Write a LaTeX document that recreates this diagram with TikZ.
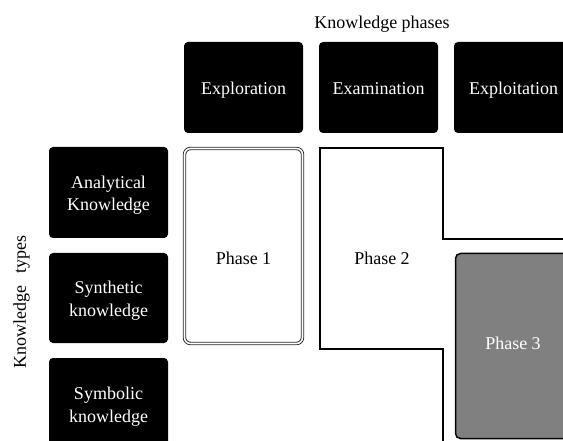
\documentclass[tikz,border=0pt]{standalone}
\usepackage{fontspec}
\setmainfont{Liberation Serif}
\newcommand\tstrut{\rule[-3pt]{0pt}{21pt}}
\begin{document}
\begin{tikzpicture}[x=1pt,y=-1pt,
  every node/.style={font=\fontsize{18}{21}\selectfont},
  blackbox/.style={fill=black,text=white,rounded corners=4pt,inner sep=0pt,
    minimum width=119pt,minimum height=91pt,align=center},
  lbl/.style={inner sep=0pt,align=center}]
\useasboundingbox (0,0) rectangle (563,441);
\begin{scope}
\clip (0,0) rectangle (563,441);
% title
\node[lbl] (kp) at (382,24.5) {Knowledge phases};
\node[lbl,rotate=90] (kt) at (21.5,302) {Knowledge\hspace{0.4em} types};
% phase boxes
\node[blackbox] (explor) at (243.5,87.5) {\tstrut Exploration};
\node[blackbox] (exam) at (378.5,87.5) {\tstrut Examination};
\node[blackbox] (exploit) at (513.5,87.5) {\tstrut Exploitation};
% type boxes
\node[blackbox] (ana) at (108.5,192.5) {\tstrut Analytical\\Knowledge\tstrut};
\node[blackbox,minimum height=90pt] (syn) at (108.5,298) {\tstrut Synthetic\\knowledge\tstrut};
\node[blackbox] (sym) at (108.5,403.5) {\tstrut Symbolic\\knowledge\tstrut};
% phase 1
\node[draw=black!85,double=white,double distance=1.6pt,line width=0.9pt,
  rounded corners=6pt,minimum width=118pt,minimum height=195pt,inner sep=0pt]
  (p1) at (243.5,246) {};
\node[lbl] (p1t) at (243.5,258) {Phase 1};
% phase 2 outline
\coordinate (a) at (600,239);
\coordinate (b) at (443,239);
\coordinate (c) at (443,148);
\coordinate (d) at (320,148);
\coordinate (e) at (320,349);
\coordinate (f) at (443,349);
\coordinate (g) at (443,480);
\draw[line width=1.6pt] (a) -- (b) -- (c) -- (d) -- (e) -- (f) -- (g);
\node[lbl] (p2t) at (382,258) {Phase 2};
% phase 3
\node[fill=black!50,draw=black,line width=1.5pt,rounded corners=5pt,
  minimum width=115pt,minimum height=185pt,inner sep=0pt]
  (p3) at (513,346) {};
\node[lbl,text=white] (p3t) at (513,343) {Phase 3};
\end{scope}
\end{tikzpicture}
\end{document}
